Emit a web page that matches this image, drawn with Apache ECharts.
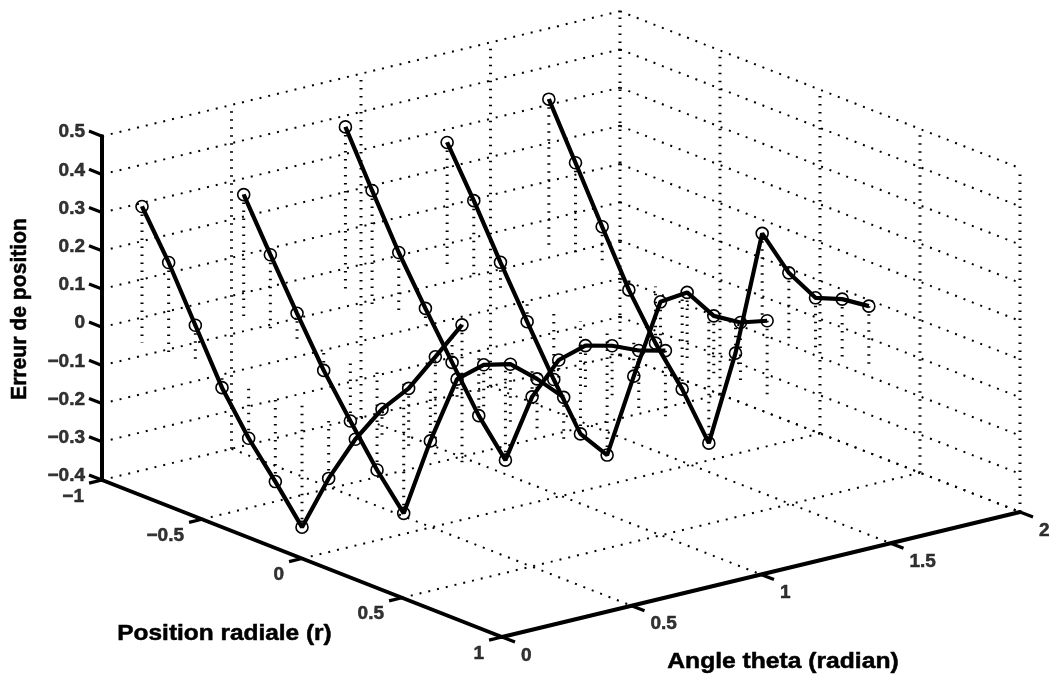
<!DOCTYPE html>
<html><head><meta charset="utf-8">
<style>html,body{margin:0;padding:0;background:#fff}#c{width:1051px;height:676px}</style>
<script src="https://cdn.jsdelivr.net/npm/echarts@6/dist/echarts.min.js"></script>
</head><body><div id="c"></div>
<script>
// ---- data ----
var thetaValues = [0, 0.3927, 0.7854, 1.1781, 1.5708];
var radialValues = [-0.8, -0.6667, -0.5333, -0.4, -0.2667, -0.1333, 0, 0.1333, 0.2667, 0.4, 0.5333, 0.6667, 0.8];
var errorTheta0 = [0.357, 0.238, 0.101, -0.035, -0.140, -0.226, -0.318, -0.163, -0.033, 0.073, 0.155, 0.265, 0.376];
var errorTheta1 = [0.324, 0.194, 0.068, -0.054, -0.159, -0.260, -0.346, -0.129, 0.060, 0.125, 0.154, 0.143, 0.122];
var errorTheta2 = [0.437, 0.298, 0.163, 0.044, -0.070, -0.182, -0.271, -0.078, 0.046, 0.111, 0.138, 0.153, 0.180];
var errorTheta3 = [0.332, 0.207, 0.073, -0.055, -0.179, -0.294, -0.322, -0.088, 0.134, 0.186, 0.152, 0.162, 0.194];
var errorTheta4 = [0.381, 0.242, 0.102, -0.036, -0.148, -0.241, -0.355, -0.092, 0.249, 0.173, 0.135, 0.159, 0.168];
var thetaTicks = [0, 0.5, 1, 1.5, 2];
var thetaTickLabels = ['0', '0.5', '1', '1.5', '2'];
var radialTicks = [-1, -0.5, 0, 0.5, 1];
var radialTickLabels = ['\u22121', '\u22120.5', '0', '0.5', '1'];
var errorTicks = [-0.4, -0.3, -0.2, -0.1, 0, 0.1, 0.2, 0.3, 0.4, 0.5];
var errorTickLabels = ['\u22120.4', '\u22120.3', '\u22120.2', '\u22120.1', '0', '0.1', '0.2', '0.3', '0.4', '0.5'];
var xTitle = 'Angle theta (radian)';
var yTitle = 'Position radiale (r)';
var zTitle = 'Erreur de position';

// ---- orthographic view of the 3-D box ----
var O = {x: 102, y: 480}, TH = {x: 259, y: -62.5}, RA = {x: 200, y: 78.5}, ZE = 382;
function P(t, r, z) {
  return [O.x + TH.x * t + RA.x * (r + 1), O.y + TH.y * t + RA.y * (r + 1) - ZE * (z + 0.4)];
}
var series = [];
function seg(a, b, style) {
  series.push({type: 'line', silent: true, symbol: 'none', animation: false, clip: false, z: style.z || 2,
    data: [a, b], lineStyle: {color: style.color || '#000', width: style.width, type: style.type || 'solid', cap: style.cap || 'butt'}});
}
var slant = {width: 2, type: [2, 7], color: '#000'};
var upright = {width: 3, type: [1.5, 6.5], color: '#000'};
var zMin = errorTicks[0], zMax = errorTicks[errorTicks.length - 1];
var tMax = 2, rMin = -1, rMax = 1;

// floor
thetaTicks.slice(1).forEach(function (t) { seg(P(t, rMin, zMin), P(t, rMax, zMin), slant); });
radialTicks.slice(1).forEach(function (r) { seg(P(0, r, zMin), P(tMax, r, zMin), slant); });
// back walls: horizontal lines
errorTicks.forEach(function (z) {
  seg(P(0, rMin, z), P(tMax, rMin, z), slant);
  seg(P(tMax, rMin, z), P(tMax, rMax, z), slant);
});
// back walls: vertical lines
thetaTicks.slice(1).forEach(function (t) { seg(P(t, rMin, zMin), P(t, rMin, zMax), upright); });
radialTicks.slice(1).forEach(function (r) { seg(P(tMax, r, zMin), P(tMax, r, zMax), upright); });

// stems down/up to zero
var errorSets = [errorTheta0, errorTheta1, errorTheta2, errorTheta3, errorTheta4];
errorSets.forEach(function (vals, i) {
  vals.forEach(function (z, k) {
    seg(P(thetaValues[i], radialValues[k], z), P(thetaValues[i], radialValues[k], 0), {width: 3, type: [1.5, 6.5], color: '#000', z: 3});
  });
});

// solid axes
var axisStyle = {width: 4, color: '#000', z: 5, cap: 'round'};
seg(P(0, rMin, zMin), P(0, rMin, zMax), axisStyle);
seg(P(0, rMin, zMin), P(0, rMax, zMin), axisStyle);
seg(P(0, rMax, zMin), P(tMax, rMax, zMin), axisStyle);
var tickStyle = {width: 3.2, color: '#000', z: 5};
errorTicks.forEach(function (z) { seg(P(0, rMin, z), P(0, rMin - 0.065, z), tickStyle); });
radialTicks.forEach(function (r) { seg(P(0, r, zMin), P(-0.05, r, zMin), tickStyle); });
thetaTicks.forEach(function (t) { seg(P(t, rMax, zMin), P(t, rMax + 0.065, zMin), tickStyle); });

// measured lines
errorSets.forEach(function (vals, i) {
  series.push({type: 'line', silent: true, animation: false, clip: false, z: 6,
    data: vals.map(function (z, k) { return P(thetaValues[i], radialValues[k], z); }),
    symbol: 'circle', symbolSize: 12, showSymbol: true, showAllSymbol: true,
    lineStyle: {color: '#000', width: 4.2},
    itemStyle: {color: 'rgba(0,0,0,0)', borderColor: '#000', borderWidth: 1.6}});
});

// tick labels
var tickFont = {show: true, color: '#000', fontFamily: 'Liberation Sans', fontWeight: 'bold', fontSize: 19, verticalAlign: 'middle', textBorderColor: '#000', textBorderWidth: 0.5};
function labels(points, texts, align) {
  series.push({type: 'scatter', silent: true, animation: false, clip: false, z: 7, symbolSize: 1,
    itemStyle: {color: 'rgba(0,0,0,0)'},
    data: points.map(function (p, i) { return {value: p, name: texts[i]}; }),
    label: Object.assign({}, tickFont, {position: 'inside', align: align, formatter: '{b}'})});
}
labels(errorTicks.map(function (z) { var p = P(0, rMin, z); return [p[0] - 17, p[1] - 4]; }), errorTickLabels, 'right');
labels(radialTicks.map(function (r) { var p = P(0, r, zMin); return [p[0] - 18, p[1] + 16.5]; }), radialTickLabels, 'right');
labels(thetaTicks.map(function (t) { var p = P(t, rMax, zMin); return [p[0] + 19, p[1] + 18.5]; }), thetaTickLabels, 'left');

var chart = echarts.init(document.getElementById('c'), null, {renderer: 'canvas'});
var titleFont = 'bold 22px "Liberation Sans"';
function titleStyle(text) {
  return {text: text, font: titleFont, fill: '#000', stroke: '#000', lineWidth: 0.5, textAlign: 'center', textVerticalAlign: 'middle'};
}
chart.setOption({
  animation: false,
  backgroundColor: '#fff',
  grid: {left: 0, right: 0, top: 0, bottom: 0},
  xAxis: {type: 'value', min: 0, max: 1051, show: false},
  yAxis: {type: 'value', min: 0, max: 676, inverse: true, show: false},
  series: series,
  graphic: [
    {type: 'text', x: 224.5, y: 634, scaleX: 1.11, z: 10, style: titleStyle(yTitle)},
    {type: 'text', x: 783, y: 662, scaleX: 1.12, z: 10, style: titleStyle(xTitle)},
    {type: 'text', x: 20, y: 309, rotation: Math.PI / 2, scaleX: 0.96, z: 10, style: titleStyle(zTitle)}
  ]
});
</script></body></html>
